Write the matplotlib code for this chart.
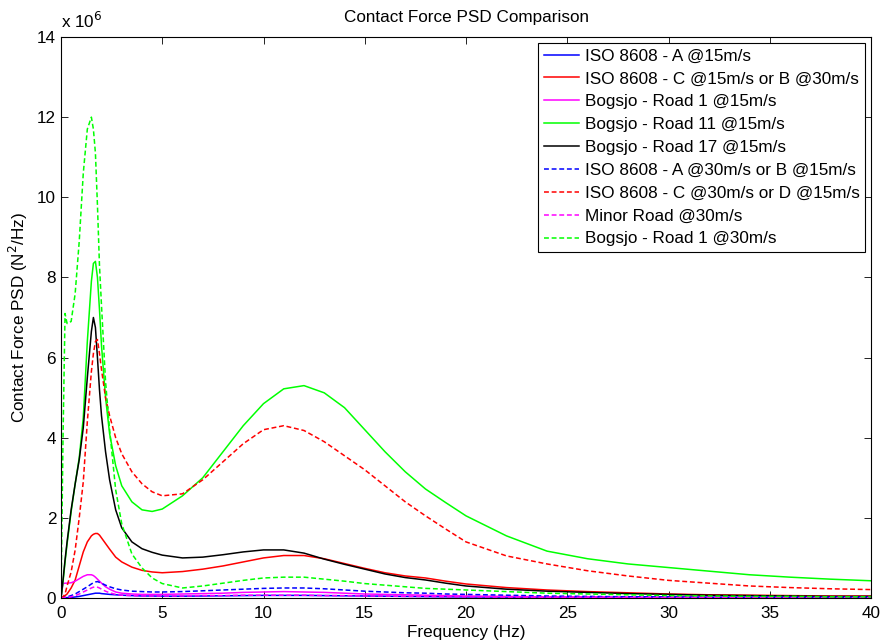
import numpy as np
import matplotlib
matplotlib.use("Agg")
import matplotlib.pyplot as plt
from matplotlib.ticker import FuncFormatter, MultipleLocator

plt.rcParams['font.family'] = ['Liberation Sans', 'DejaVu Sans']

# frequency grid (Hz) and PSD values (units of 1e6 N^2/Hz)
freq = [0, 0.1, 0.2, 0.3, 0.5, 0.7, 0.9, 1.1, 1.3, 1.5, 1.6, 1.7, 1.8, 1.9, 2.0,
        2.2, 2.4, 2.7, 3.0, 3.5, 4.0, 4.5, 5.0, 6, 7, 8, 9, 10, 11, 12, 13, 14, 15,
        16, 17, 18, 19, 20, 22, 24, 26, 28, 30, 32, 34, 36, 38, 40]

iso_a_15 = [0, 0.0, 0.005, 0.01, 0.015, 0.025, 0.04, 0.06, 0.08, 0.1, 0.11, 0.12, 0.12, 0.12,
            0.11, 0.1, 0.09, 0.08, 0.07, 0.06, 0.05, 0.05, 0.045, 0.045, 0.05, 0.055, 0.06,
            0.065, 0.065, 0.065, 0.06, 0.055, 0.05, 0.045, 0.04, 0.035, 0.03, 0.027, 0.022,
            0.018, 0.015, 0.012, 0.01, 0.009, 0.008, 0.007, 0.006, 0.005]
iso_c_15 = [0, 0.03, 0.06, 0.1, 0.25, 0.45, 0.8, 1.15, 1.4, 1.55, 1.59, 1.61, 1.61, 1.57, 1.5,
            1.36, 1.22, 1.02, 0.9, 0.77, 0.69, 0.65, 0.63, 0.66, 0.72, 0.8, 0.9, 1.0, 1.06,
            1.06, 0.98, 0.86, 0.74, 0.63, 0.55, 0.5, 0.42, 0.35, 0.26, 0.2, 0.16, 0.13, 0.1,
            0.08, 0.07, 0.06, 0.05, 0.05]
bog1_15 = [0, 0.36, 0.37, 0.37, 0.38, 0.42, 0.48, 0.54, 0.58, 0.58, 0.56, 0.52, 0.47, 0.42,
           0.37, 0.28, 0.22, 0.15, 0.12, 0.1, 0.09, 0.09, 0.09, 0.1, 0.11, 0.12, 0.14, 0.15,
           0.16, 0.15, 0.14, 0.12, 0.1, 0.09, 0.08, 0.07, 0.06, 0.05, 0.04, 0.03, 0.03, 0.02,
           0.02, 0.02, 0.01, 0.01, 0.01, 0.01]
bog11_15 = [0, 0.4, 0.9, 1.35, 2.15, 2.85, 3.5, 4.5, 6.4, 7.9, 8.35, 8.4, 8.0, 7.2, 6.3, 5.0,
            4.1, 3.3, 2.8, 2.4, 2.2, 2.16, 2.22, 2.55, 3.0, 3.65, 4.3, 4.85, 5.22, 5.3, 5.12,
            4.75, 4.2, 3.65, 3.15, 2.72, 2.38, 2.05, 1.55, 1.17, 0.98, 0.85, 0.76, 0.67, 0.58,
            0.52, 0.47, 0.43]
bog17_15 = [0, 0.45, 0.95, 1.4, 2.2, 2.85, 3.45, 4.25, 5.5, 6.65, 7.0, 6.75, 6.0, 5.2, 4.55,
            3.65, 2.95, 2.2, 1.75, 1.4, 1.23, 1.14, 1.07, 1.0, 1.02, 1.08, 1.15, 1.2, 1.2, 1.12,
            0.97, 0.84, 0.72, 0.6, 0.51, 0.45, 0.37, 0.3, 0.22, 0.17, 0.14, 0.11, 0.09, 0.07,
            0.06, 0.05, 0.04, 0.04]
iso_a_30 = [0, 0.01, 0.02, 0.03, 0.06, 0.1, 0.16, 0.22, 0.28, 0.35, 0.38, 0.4, 0.41, 0.39,
            0.37, 0.32, 0.28, 0.23, 0.2, 0.17, 0.16, 0.15, 0.15, 0.16, 0.18, 0.2, 0.22, 0.24,
            0.25, 0.25, 0.23, 0.2, 0.17, 0.15, 0.13, 0.12, 0.1, 0.09, 0.07, 0.05, 0.04, 0.03,
            0.03, 0.02, 0.02, 0.02, 0.02, 0.02]
iso_c_30 = [0, 0.02, 0.1, 0.3, 0.65, 1.2, 2.0, 2.9, 4.4, 5.65, 6.1, 6.4, 6.45, 6.1, 5.7, 5.0,
            4.55, 4.0, 3.6, 3.15, 2.85, 2.65, 2.55, 2.6, 2.95, 3.4, 3.85, 4.2, 4.3, 4.18, 3.9,
            3.55, 3.2, 2.8, 2.4, 2.05, 1.72, 1.4, 1.05, 0.85, 0.68, 0.55, 0.44, 0.37, 0.3,
            0.26, 0.23, 0.21]
minor_30 = [0, 0.0, 0.01, 0.01, 0.03, 0.06, 0.1, 0.15, 0.2, 0.25, 0.27, 0.28, 0.27, 0.25,
            0.22, 0.17, 0.13, 0.09, 0.07, 0.06, 0.05, 0.05, 0.05, 0.05, 0.06, 0.06, 0.07, 0.07,
            0.07, 0.07, 0.06, 0.06, 0.05, 0.05, 0.04, 0.04, 0.03, 0.03, 0.02, 0.02, 0.02, 0.01,
            0.01, 0.01, 0.01, 0.01, 0.01, 0.01]
bog1_30 = [0, 4.0, 7.1, 6.85, 6.9, 7.6, 8.9, 10.6, 11.7, 12.0, 11.7, 11.1, 9.8, 8.3, 7.3, 5.4,
           4.2, 2.7, 1.85, 1.1, 0.75, 0.5, 0.36, 0.25, 0.3, 0.37, 0.44, 0.5, 0.52, 0.52, 0.47,
           0.42, 0.36, 0.32, 0.28, 0.24, 0.22, 0.2, 0.16, 0.12, 0.1, 0.08, 0.06, 0.05, 0.04,
           0.04, 0.03, 0.03]

scale = 1e6
series = [
    (iso_a_15, 'ISO 8608 - A @15m/s', '#0000ff', '-'),
    (iso_c_15, 'ISO 8608 - C @15m/s or B @30m/s', '#ff0000', '-'),
    (bog1_15, 'Bogsjo - Road 1 @15m/s', '#ff00ff', '-'),
    (bog11_15, 'Bogsjo - Road 11 @15m/s', '#00ff00', '-'),
    (bog17_15, 'Bogsjo - Road 17 @15m/s', '#000000', '-'),
    (iso_a_30, 'ISO 8608 - A @30m/s or B @15m/s', '#0000ff', '--'),
    (iso_c_30, 'ISO 8608 - C @30m/s or D @15m/s', '#ff0000', '--'),
    (minor_30, 'Minor Road @30m/s', '#ff00ff', '--'),
    (bog1_30, 'Bogsjo - Road 1 @30m/s', '#00ff00', '--'),
]

fs = 12.3
fig = plt.figure(figsize=(8.83, 6.43), dpi=100)
ax = fig.add_axes([61/883, 1-598/643, 810/883, 561/643])

f = np.array(freq)
for vals, lab, col, ls in series:
    if ls == '--':
        ax.plot(f, np.array(vals)*scale, color=col, lw=1.1, label=lab, dashes=(3.2, 1.8))
    else:
        ax.plot(f, np.array(vals)*scale, color=col, lw=1.1, label=lab)

ax.set_xlim(0, 40)
ax.set_ylim(0, 14e6)
ax.xaxis.set_major_locator(MultipleLocator(5))
ax.yaxis.set_major_locator(MultipleLocator(2e6))
ax.yaxis.set_major_formatter(FuncFormatter(lambda v, p: '%g' % (v/scale)))
ax.tick_params(direction='in', top=True, right=True, length=5, width=0.6, labelsize=fs)
ax.tick_params(axis='x', pad=6)
for s in ax.spines.values():
    s.set_linewidth(0.8)

ax.text(0.0, 1.01, r'x 10$^{6}$', transform=ax.transAxes, fontsize=fs, ha='left', va='bottom')
ax.set_title('Contact Force PSD Comparison', fontsize=fs, pad=11)
ax.set_xlabel('Frequency (Hz)', fontsize=fs, labelpad=3)
ax.set_ylabel('Contact Force PSD (N$^2$/Hz)', fontsize=fs, labelpad=5)

leg = ax.legend(loc='upper right', fontsize=fs, handlelength=2.1, handletextpad=0.3,
                labelspacing=0.46, borderaxespad=0.33, fancybox=False, framealpha=1,
                borderpad=0.35)
leg.get_frame().set_edgecolor('k')
leg.get_frame().set_linewidth(0.8)

fig.savefig('out.png', dpi=100)
